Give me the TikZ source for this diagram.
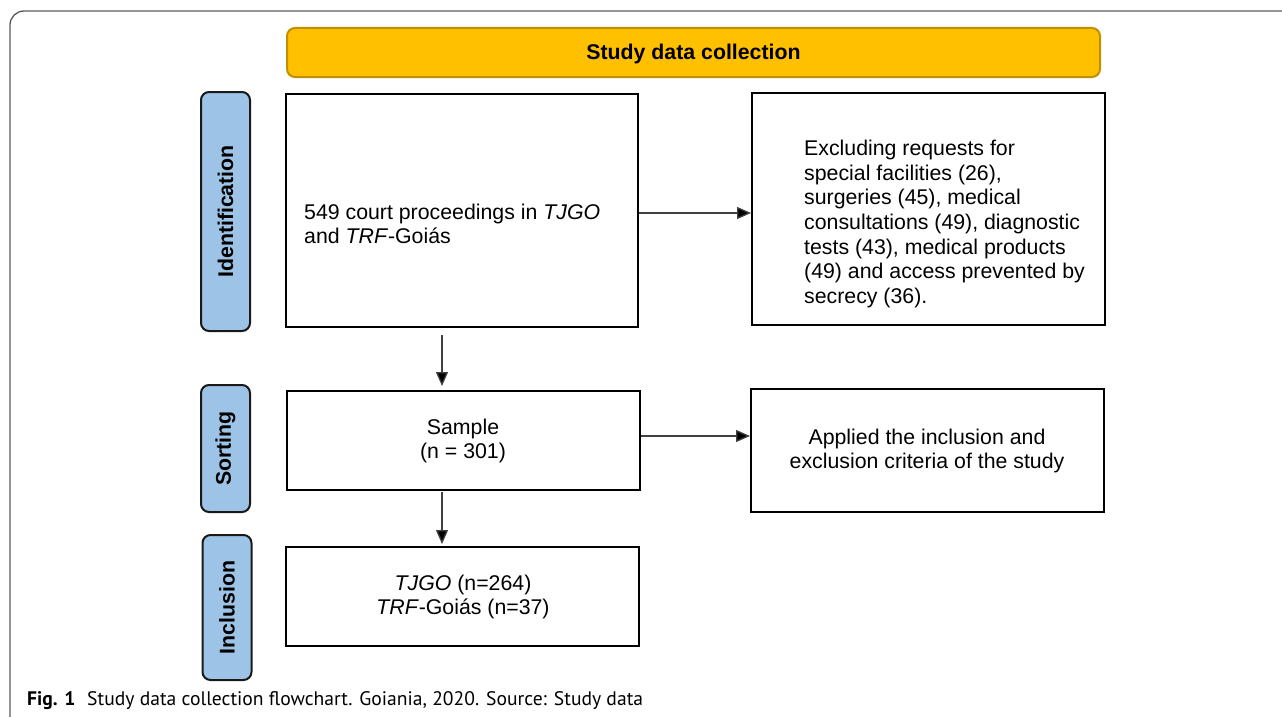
\documentclass[tikz,border=0pt]{standalone}
\usepackage{fontspec}
\setmainfont{Liberation Sans}
\newfontfamily\capfont{PT Sans}
\usetikzlibrary{arrows.meta,calc}
\definecolor{hdrfill}{HTML}{FFC000}
\definecolor{hdrdraw}{HTML}{BF9000}
\definecolor{lblfill}{HTML}{9DC3E6}
\definecolor{framecol}{HTML}{5A5A5A}
\tikzset{
  box/.style={draw=black, line width=2pt, fill=white, inner sep=0pt},
  lbl/.style={draw=black!90, line width=2pt, fill=lblfill, rounded corners=8pt, inner sep=0pt, minimum width=49pt},
  lbltxt/.style={rotate=90, font=\fontsize{21.3}{24}\selectfont\bfseries},
  txt/.style={font=\fontsize{21.3}{24.7}\selectfont, inner sep=0pt},
  arr/.style={draw=black!75, line width=1.3pt, -{Triangle[length=14pt,width=12pt,fill=black]}},
}
\begin{document}
\begin{tikzpicture}[x=1pt,y=-1pt]
\useasboundingbox (0,0) rectangle (1282,717);
\draw[framecol, line width=1.3pt, rounded corners=14pt] (10,717) -- (10,11) -- (1282,11);

\node[draw=hdrdraw, line width=2pt, fill=hdrfill, rounded corners=8pt, minimum width=813pt, minimum height=49pt, inner sep=0pt] (hdr) at (693.5,52.5) {};
\node[inner sep=0pt, font=\fontsize{21.3}{24}\selectfont\bfseries] (hdrt) at (693.5,54) {Study data collection};

\node[lbl, minimum height=239pt] (lid) at (225.5,211.5) {};
\node[lbltxt] (lidt) at (lid.center) {Identification};
\node[lbl, minimum height=127pt] (lso) at (225.5,448.5) {};
\node[lbltxt] (lsot) at (lso.center) {Sorting};
\node[lbl, minimum height=145pt] (lin) at (227,607.5) {};
\node[lbltxt] (lint) at (lin.center) {Inclusion};

\node[box, minimum width=352pt, minimum height=233pt] (b1) at (462,210.5) {};
\node[txt, anchor=west, align=left] (b1t) at (304,224) {549 court proceedings in \textit{TJGO}\\and \textit{TRF}-Goiás};

\node[box, minimum width=353pt, minimum height=232pt] (b2) at (928.5,209) {};
\node[txt, anchor=west, align=left] (b2t) at (804,224) {Excluding requests for\\special facilities (26),\\surgeries (45), medical\\consultations (49), diagnostic\\tests (43), medical products\\(49) and access prevented by\\secrecy (36).};

\node[box, minimum width=353pt, minimum height=99pt] (b3) at (463.5,440.5) {};
\node[txt, align=center] (b3t) at (463,441) {Sample\\(n = 301)};

\node[box, minimum width=353pt, minimum height=123pt] (b4) at (927.5,450.5) {};
\node[txt, align=center] (b4t) at (927,451) {Applied the inclusion and\\exclusion criteria of the study};

\node[box, minimum width=353pt, minimum height=99pt] (b5) at (462.5,596.5) {};
\node[txt, align=center] (b5t) at (463,597) {\textit{TJGO} (n=264)\\\textit{TRF}-Goiás (n=37)};

\coordinate (a1s) at (442,335);
\coordinate (a1e) at (442,386);
\coordinate (a3s) at (442,492);
\coordinate (a3e) at (442,544);
\draw[arr] (b1.east |- 0,213) -- (b2.west |- 0,213);
\draw[arr] (b3.east |- 0,436) -- (b4.west |- 0,436);
\draw[arr] (a1s) -- (a1e);
\draw[arr] (a3s) -- (a3e);

\node[anchor=base west, inner sep=0pt, font=\capfont\fontsize{19.6}{24}\selectfont] (cap) at (27,705)
  {\textbf{Fig. 1}\hspace{0.6em}Study data collection flowchart. Goiania, 2020. Source: Study data};
\end{tikzpicture}
\end{document}
